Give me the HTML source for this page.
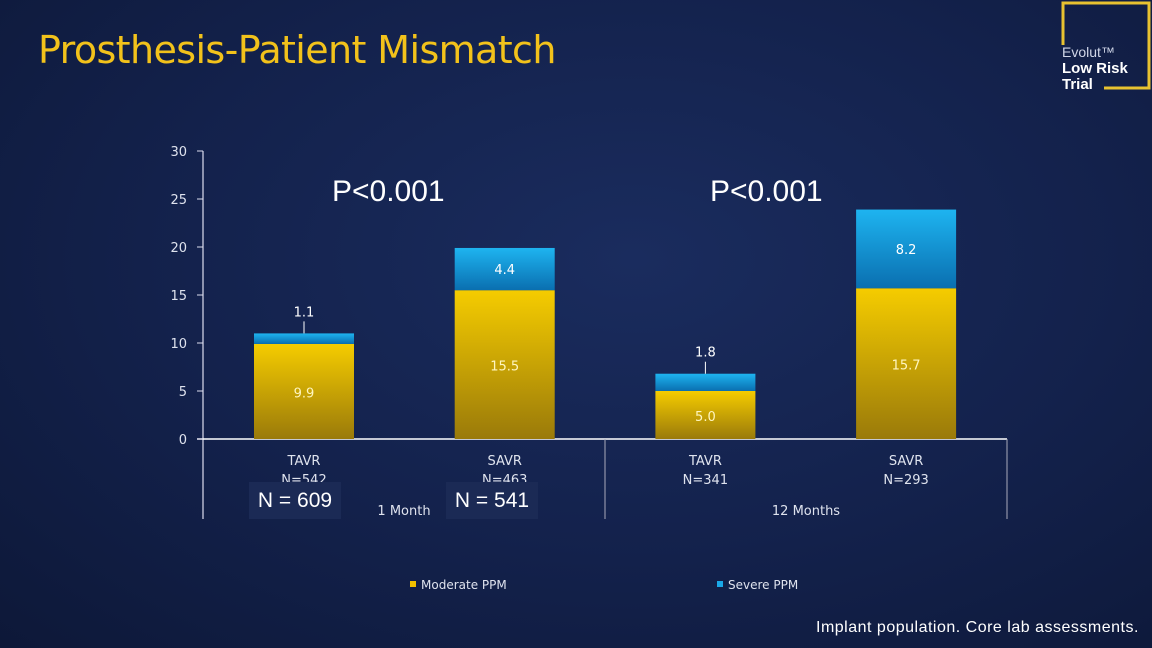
<!DOCTYPE html>
<html><head><meta charset="utf-8"><style>
body{margin:0;width:1152px;height:648px;overflow:hidden;background:radial-gradient(ellipse at 55% 40%,#1a2c5e 0%,#13214b 55%,#0d1838 100%);font-family:"Liberation Sans",sans-serif;position:relative}
.t{position:absolute;white-space:nowrap}
</style></head><body>
<div class="t" style="left:38px;top:28px;font-size:38px;color:#f2c21b;font-family:'DejaVu Sans',sans-serif;letter-spacing:-0.6px">Prosthesis-Patient Mismatch</div>
<svg class="t" style="left:1040px;top:0" width="112" height="100">
<path d="M23 45 V3 H109 V88 H64" fill="none" stroke="#e8c230" stroke-width="3"/>
<text x="22" y="57" fill="#d0d6e8" font-size="14" font-family="Liberation Sans">Evolut™</text>
<text x="22" y="73" fill="#fff" font-size="15" font-weight="bold" font-family="Liberation Sans">Low Risk</text>
<text x="22" y="89" fill="#fff" font-size="15" font-weight="bold" font-family="Liberation Sans">Trial</text>
</svg>
<svg id="chart" class="t" style="left:0;top:0" width="1152" height="648">
<defs>
<linearGradient id="gy" x1="0" y1="0" x2="0" y2="1"><stop offset="0" stop-color="#f5cc00"/><stop offset="1" stop-color="#9a7a0a"/></linearGradient>
<linearGradient id="gb" x1="0" y1="0" x2="0" y2="1"><stop offset="0" stop-color="#1eb4f0"/><stop offset="1" stop-color="#0a6fb0"/></linearGradient>
</defs>
</svg>
<div class="t" style="left:332px;top:175px;font-size:30px;color:#fff;font-family:'Liberation Sans',sans-serif">P&lt;0.001</div>
<div class="t" style="left:710px;top:175px;font-size:30px;color:#fff;font-family:'Liberation Sans',sans-serif">P&lt;0.001</div>
<div class="t" style="left:249px;top:482px;width:92px;height:37px;background:#1b2a55;color:#fff;font-size:21px;line-height:37px;text-align:center;font-family:'Liberation Sans',sans-serif">N = 609</div>
<div class="t" style="left:446px;top:482px;width:92px;height:37px;background:#1b2a55;color:#fff;font-size:21px;line-height:37px;text-align:center;font-family:'Liberation Sans',sans-serif">N = 541</div>
<div class="t" style="left:816px;top:619px;font-size:16px;color:#fff;letter-spacing:0.5px">Implant population. Core lab assessments.</div>
<script>
const categories=["TAVR","SAVR","TAVR","SAVR"];
const nLabels=["N=542","N=463","N=341","N=293"];
const moderate=[9.9,15.5,5.0,15.7];
const severe=[1.1,4.4,1.8,8.2];
const yTicks=[0,5,10,15,20,25,30];
const groups=["1 Month","12 Months"];
const NS="http://www.w3.org/2000/svg";
const svg=document.getElementById('chart');
const y0=439,yTop=151,ax=203,axEnd=1007;
function y(v){return y0-(v/30)*(y0-yTop);}
function bx(i){return 254+i*200.7;}
const bw=100;
function mk(tag,a,txt){const e=document.createElementNS(NS,tag);for(const k in a)e.setAttribute(k,a[k]);if(txt!=null)e.textContent=txt;svg.appendChild(e);return e;}
let e;
e=mk('line',{x1:ax,y1:yTop,x2:ax,y2:519,stroke:'#dde','stroke-width':1.2});


e=mk('line',{x1:ax-6,y1:y0,x2:axEnd,y2:y0,stroke:'#fff','stroke-width':1.5});


e=mk('line',{x1:605,y1:y0,x2:605,y2:519,stroke:'#aab','stroke-width':1});


e=mk('line',{x1:axEnd,y1:y0,x2:axEnd,y2:519,stroke:'#aab','stroke-width':1});


yTicks.forEach(t=>{
 e=mk('line',{x1:ax-6,y1:y(t),x2:ax,y2:y(t),stroke:'#dde'});
 
 
 e=mk('text',{x:187,y:y(t)+5,fill:'#dfe3ee','font-size':13,'text-anchor':'end','font-family':'DejaVu Sans'},t);
 
 
});
categories.forEach((c,i)=>{
 const x=bx(i),cx=x+bw/2;
 e=mk('rect',{x:x,y:y(moderate[i]),width:bw,height:y0-y(moderate[i]),fill:'url(#gy)'});
 
 
 const top=moderate[i]+severe[i];
 e=mk('rect',{x:x,y:y(top),width:bw,height:y(moderate[i])-y(top),fill:'url(#gb)'});
 
 
 e=mk('text',{x:cx,y:(y(moderate[i])+y0)/2+6,fill:'#fff6c0','font-size':13,'text-anchor':'middle','font-family':'DejaVu Sans'},moderate[i].toFixed(1));
 
 
 if(severe[i]<3){
  e=mk('line',{x1:cx,y1:y(top)-12,x2:cx,y2:y(top),stroke:'#fff'});
  
  
  e=mk('text',{x:cx,y:y(top)-17,fill:'#fff','font-size':13,'text-anchor':'middle','font-family':'DejaVu Sans'},severe[i].toFixed(1));
 } else {
  e=mk('text',{x:cx,y:(y(top)+y(moderate[i]))/2+5,fill:'#fff','font-size':13,'text-anchor':'middle','font-family':'DejaVu Sans'},severe[i].toFixed(1));
 }
 
 
 e=mk('text',{x:cx,y:465,fill:'#dfe3ee','font-size':13,'text-anchor':'middle','font-family':'DejaVu Sans'},c);
 
 
 e=mk('text',{x:cx,y:484,fill:'#dfe3ee','font-size':13,'text-anchor':'middle','font-family':'DejaVu Sans'},nLabels[i]);
 
 
});
groups.forEach((g,i)=>{
 e=mk('text',{x:i?806:404,y:515,fill:'#dfe3ee','font-size':13,'text-anchor':'middle','font-family':'DejaVu Sans'},g);
 
 
});
[["Moderate PPM",'#f0c000',410],["Severe PPM",'#1aa8e8',717]].forEach(l=>{
 e=mk('rect',{x:l[2],y:581,width:6,height:6,fill:l[1]});
 
 
 e=mk('text',{x:l[2]+11,y:589,fill:'#dfe3ee','font-size':12,'font-family':'DejaVu Sans'},l[0]);
 
 
});
</script>
</body></html>
